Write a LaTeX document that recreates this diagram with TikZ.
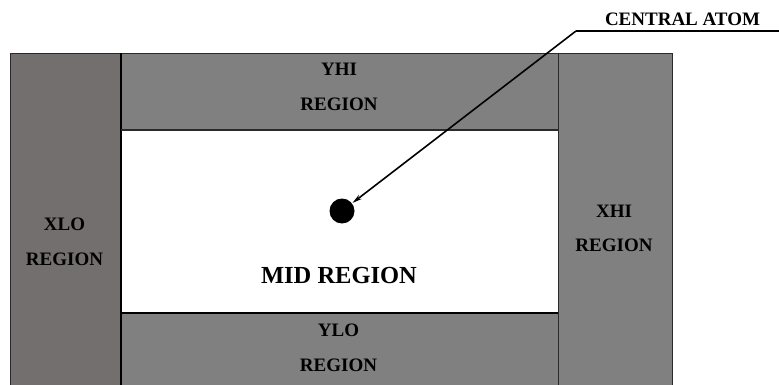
\documentclass[tikz,border=0pt]{standalone}
\usepackage{fontspec}
\setmainfont{Liberation Serif}
\usetikzlibrary{arrows.meta}
\definecolor{xlogray}{HTML}{736F6E}
\definecolor{regiongray}{HTML}{808080}
\definecolor{edgegray}{HTML}{2A2A2A}
\tikzset{
  lbl/.style={font=\fontsize{19}{22}\selectfont\bfseries, inner sep=0pt, anchor=center},
  bigl/.style={font=\fontsize{24.5}{28}\selectfont\bfseries, inner sep=0pt, anchor=center},
  region/.style={fill=regiongray, draw=edgegray, line width=0.8pt},
}
\begin{document}
\begin{tikzpicture}[x=1pt,y=-1pt]
\useasboundingbox (0,0) rectangle (779,385);
% regions
\fill[white] (121,130) rectangle (558,313);
\draw[region] (121,53) rectangle (558,130);
\draw[region] (121,313) rectangle (558,390);
\draw[region] (558,53) rectangle (672,390);
\draw[region, fill=xlogray] (10,53) rectangle (121,390);
\draw[line width=2pt, black] (121,53) -- (121,385);
\draw[line width=1.6pt, black] (121,313) -- (558,313);
\draw[line width=1.2pt, edgegray] (121,130) -- (558,130);
% labels
\node[lbl] (yhi1) at (339,69.5) {YHI};
\node[lbl] (yhi2) at (339,104) {REGION};
\node[lbl] (xlo1) at (64.5,224) {XLO};
\node[lbl] (xlo2) at (64.5,259) {REGION};
\node[lbl] (xhi1) at (614,211) {XHI};
\node[lbl] (xhi2) at (614,245.5) {REGION};
\node[lbl] (ylo1) at (338.5,330.5) {YLO};
\node[lbl] (ylo2) at (338.5,365.5) {REGION};
\node[bigl] (mid) at (339,276) {MID REGION};
% central atom
\node[circle, fill=black, minimum size=25pt, inner sep=0pt] (atom) at (342,211) {};
\node[lbl] (catom) at (682.5,19.5) {CENTRAL ATOM};
\coordinate (bend) at (576,31);
\coordinate (lend) at (779,31);
\draw[line width=1.8pt] (lend) -- (bend);
\draw[line width=1.6pt, -{Stealth[length=10pt,width=5pt]}, shorten >=0.5pt] (bend) -- (atom);
\end{tikzpicture}
\end{document}
